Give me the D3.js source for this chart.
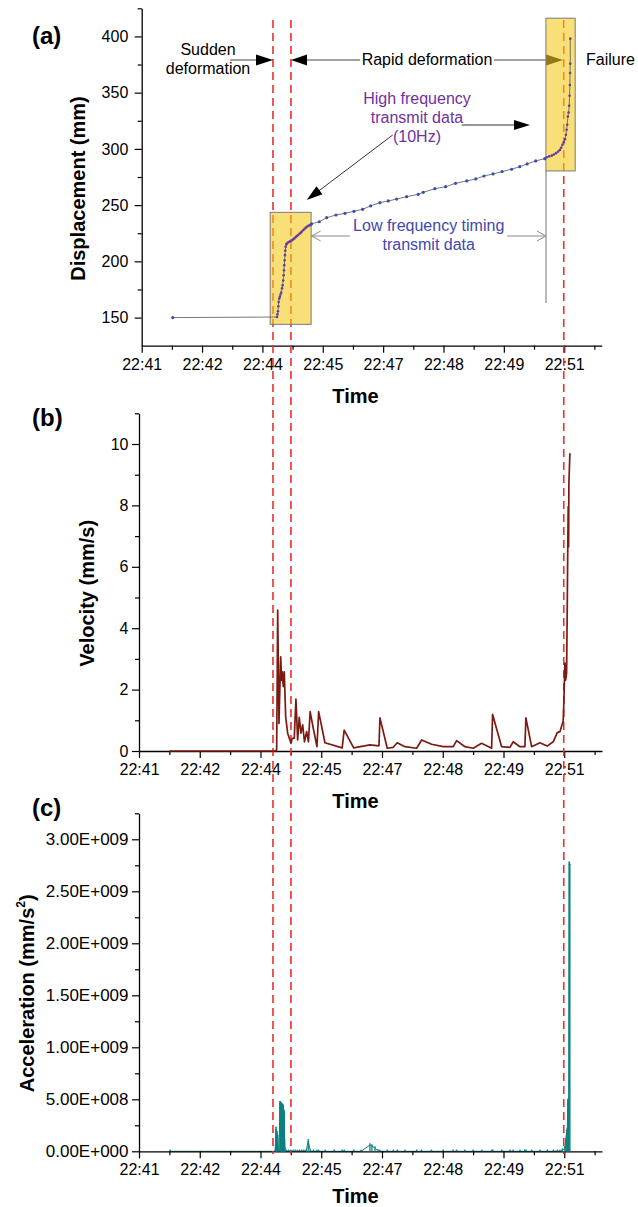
<!DOCTYPE html>
<html><head><meta charset="utf-8">
<script src="https://cdn.jsdelivr.net/npm/d3@7"></script>
<style>
body{margin:0;background:#fff}
svg{display:block}
text{font-family:"Liberation Sans",Arial,Helvetica,sans-serif}
</style>
</head><body>
<svg id="chart" width="638" height="1207"></svg>
<script>
// ---------------- DATA ----------------
// time axis in decimal minutes after 22:00 (ticks every 1.4 min)
const xTickValues = [41, 42.4, 43.8, 45.2, 46.6, 48.0, 49.4, 50.8];
const xTickLabels = ["22:41","22:42","22:44","22:45","22:47","22:48","22:49","22:51"];
const xMinorTicks = [41.7, 43.1, 44.5, 45.9, 47.3, 48.7, 50.1, 51.5];

const dispTicks = [150, 200, 250, 300, 350, 400];
const dispMinor = [175, 225, 275, 325, 375, 425];
const velTicks = [0, 2, 4, 6, 8, 10];
const velMinor = [1, 3, 5, 7, 9, 11];
const accTicks = [0, 5e8, 1e9, 1.5e9, 2e9, 2.5e9, 3e9];
const accTickLabels = ["0.00E+000","5.00E+008","1.00E+009","1.50E+009","2.00E+009","2.50E+009","3.00E+009"];
const accMinor = [2.5e8, 7.5e8, 1.25e9, 1.75e9, 2.25e9, 2.75e9, 3.25e9];

// (a) displacement (mm)
const dispTime = [41.72,44.138,44.150,44.161,44.170,44.177,44.190,44.205,44.220,44.237,44.255,44.270,44.282,44.293,44.300,44.307,44.315,44.323,44.331,44.339,44.355,44.370,44.40,44.43,44.46,44.485,44.51,44.54,44.57,44.60,44.63,44.66,44.69,44.717,44.75,44.78,44.81,44.84,44.87,44.90,44.925,
  44.942,45.119,45.29,45.506,45.715,45.923,46.125,46.31,46.526,46.719,46.913,47.145,47.414,47.53,47.80,48.05,48.28,48.54,48.75,48.94,49.15,49.36,49.58,49.77,49.94,50.14,50.35,
  50.39,50.45,50.51,50.56,50.61,50.66,50.70,50.73,50.76,50.79,50.82,50.84,50.856,50.87,50.886,50.902,50.916,50.925,50.932,50.936,50.94,50.942];
const dispValue = [150,150.5,153,155.6,160,163.9,166.9,168.5,170.5,172.3,176,178.8,183,187.7,192,196.6,201,205.5,209.5,212.9,215,216,217,217.6,218.2,218.8,219.5,220.4,221.5,222.5,223.4,224.5,225.5,226.5,227.9,229,230,231,231.7,232.2,232.6,
  233.4,235.2,238.8,241.2,242.7,244.5,246.3,249.3,252.2,253.7,255.4,257.5,259.6,261.4,264.6,266.4,269.4,271.5,273.3,275.9,277.7,279.8,281.9,284.2,286.6,289.3,291.3,
  292.6,293.3,294,295,296.2,297.6,299.1,301,303.6,306,308.5,312.5,317,321.4,328.8,332.4,338.3,347.3,356.8,367.5,375.8,398];

// high-frequency windows (time range, displacement range)
const boxTimes = [[43.98, 44.93], [50.376, 51.055]];
const boxValues = [[144, 243.6], [280.4, 416.2]];

// (b) velocity (mm/s)
const velTime = [41.7,44.15,44.173,44.196,44.226,44.265,44.288,44.302,44.325,44.348,44.380,44.426,44.502,44.532,44.578,44.617,44.656,44.693,44.732,44.772,44.813,44.864,44.905,44.944,45.016,45.101,45.140,45.285,45.682,45.728,45.947,46.322,46.530,46.553,46.721,46.859,46.951,47.129,47.398,47.513,47.744,48.011,48.242,48.320,48.511,48.702,48.896,49.126,49.149,49.357,49.548,49.624,49.778,49.893,49.916,50.048,50.239,50.407,50.546,50.638,50.700,50.776,50.792,50.815,50.831,50.854,50.868,50.877,50.891,50.900,50.907,50.930];
const velValue = [0,0,0.05,4.59,0.9,3.07,2.3,2.58,2.1,2.58,1.12,0.58,0.25,0.41,0.42,1.69,0.36,1.1,0.58,0.85,0.3,0.63,0.3,1.28,0.74,0.14,1.28,0.27,0.1,0.68,0.1,0.2,0.17,1.08,0.09,0.12,0.27,0.14,0.09,0.36,0.22,0.14,0.14,0.34,0.14,0.09,0.25,0.09,1.19,0.14,0.12,0.3,0.14,0.14,1.08,0.14,0.27,0.16,0.3,0.6,0.63,0.98,1.66,2.86,2.31,2.53,4.48,6.0,7.96,6.65,8.72,9.7];

// (c) acceleration (mm/s^2)
const accTime = [41.72,44.14,44.145,44.157,44.168,44.18,44.196,44.21,44.225,44.249,44.257,44.265,44.272,44.279,44.287,44.295,44.303,44.311,44.318,44.325,44.333,44.341,44.348,44.356,44.364,
  44.40,44.45,44.50,44.55,44.60,44.65,44.70,44.75,44.80,44.85,44.90,44.95,45.02,45.10,45.14,45.29,45.50,45.68,45.73,45.95,46.12,46.322,46.368,46.437,46.50,46.55,46.72,46.86,46.95,47.13,47.40,47.51,47.74,48.01,48.24,48.32,48.51,48.70,48.90,49.13,49.15,49.36,49.55,49.62,49.78,49.89,49.92,50.05,50.24,50.41,50.55,50.64,50.70,
  50.76,50.815,50.838,50.854,50.868,50.884,50.900,50.914,50.930];
const accValue = [0,0,5e7,2.2e8,1.2e8,1.8e8,1.4e8,3e7,0,4.67e8,4.5e8,4.6e8,4.4e8,4.5e8,4.3e8,4.45e8,4.2e8,4.4e8,4.0e8,4.3e8,3.9e8,3.8e8,3.65e8,1.0e8,2e7,
  0,0,0,0,0,0,0,0,0,0,1.0e8,0,0,0,0,0,0,0,0,0,0,6e7,5e7,3e7,5e6,0,0,0,0,0,0,0,0,0,0,0,0,0,0,0,0,0,0,0,0,0,0,0,0,0,0,0,0,
  1e7,3e7,1.1e8,1.9e8,2.05e8,4.9e8,1.5e8,2.77e9,2.75e9];

// event lines (sudden start, rapid start, failure)
const eventTimes = [44.045, 44.462, 50.79];

// ---------------- DRAW ----------------
const svg = d3.select("#chart");
const FONT = '"Liberation Sans",Arial,Helvetica,sans-serif';
const xMax = 51.67;

const xa = d3.scaleLinear().domain([41, xMax]).range([141.7, 601.7]);
const xb = d3.scaleLinear().domain([41, xMax]).range([139, 602]);
const ya = d3.scaleLinear().domain([125, 425]).range([345.7, 8.3]);
const yb = d3.scaleLinear().domain([0, 11]).range([751, 413.3]);
const yc = d3.scaleLinear().domain([0, 3.25e9]).range([1151.3, 813.3]);

function styleAxis(g, fs) {
  g.attr("font-family", FONT).attr("font-size", fs);
  g.selectAll("path.domain").attr("stroke", "#000").attr("stroke-width", 1.3);
  g.selectAll(".tick line").attr("stroke", "#000").attr("stroke-width", 1.2);
  g.selectAll(".tick text").attr("fill", "#000");
}
function xAxis(x, y0) {
  const g = svg.append("g").attr("transform", `translate(0,${y0})`);
  g.call(d3.axisBottom(x).tickValues(xTickValues).tickFormat((d, i) => xTickLabels[i])
    .tickSizeInner(7).tickSizeOuter(0).tickPadding(5.5));
  styleAxis(g, 16);
  const m = svg.append("g").attr("transform", `translate(0,${y0})`);
  m.call(d3.axisBottom(x).tickValues(xMinorTicks).tickFormat("").tickSizeInner(4).tickSizeOuter(0));
  m.select("path.domain").remove();
  styleAxis(m, 16);
}
function yAxis(x0, y, ticks, minor, fmt, pad, fs) {
  const g = svg.append("g").attr("transform", `translate(${x0},0)`);
  g.call(d3.axisLeft(y).tickValues(ticks).tickFormat(fmt).tickSizeInner(7).tickSizeOuter(0).tickPadding(pad));
  styleAxis(g, fs);
  const m = svg.append("g").attr("transform", `translate(${x0},0)`);
  m.call(d3.axisLeft(y).tickValues(minor).tickFormat("").tickSizeInner(4).tickSizeOuter(0));
  m.select("path.domain").remove();
  styleAxis(m, fs);
}

// Panel (c) data line first (under the axis)
const accData = accTime.map((t, i) => ({t, v: accValue[i]}));
const teal = "#0c8080";
svg.append("path").datum(accData)
  .attr("d", d3.line().x(d => xb(d.t)).y(d => yc(d.v)))
  .attr("fill", "none").attr("stroke", teal).attr("stroke-width", 1);

// axes
xAxis(xa, 345.7);
yAxis(141.7, ya, dispTicks, dispMinor, d3.format("d"), 6.4, 16);
xAxis(xb, 751);
yAxis(139, yb, velTicks, velMinor, d3.format("d"), 3.5, 16);
xAxis(xb, 1151.3);
yAxis(139, yc, accTicks, accMinor, (d, i) => accTickLabels[i], 3.5, 17);

// acceleration stems and dots
svg.append("g").selectAll("line").data(accData.filter(d => d.v > 0)).join("line")
  .attr("x1", d => xb(d.t)).attr("x2", d => xb(d.t))
  .attr("y1", yc(0)).attr("y2", d => yc(d.v))
  .attr("stroke", teal).attr("stroke-width", 1.3);
svg.append("g").selectAll("circle").data(accData).join("circle")
  .attr("cx", d => xb(d.t)).attr("cy", d => yc(d.v) - 1).attr("r", 0.9).attr("fill", teal);

// event dashed lines
svg.append("g").selectAll("line").data(eventTimes).join("line")
  .attr("x1", d => xa(d)).attr("x2", d => xa(d))
  .attr("y1", 20).attr("y2", 1154)
  .attr("stroke", "#e8322a").attr("stroke-width", 1.6).attr("stroke-dasharray", "8,5");

// annotation helpers
const ann = svg.append("g");
function line(x1, y1, x2, y2, col, w) {
  ann.append("line").attr("x1", x1).attr("y1", y1).attr("x2", x2).attr("y2", y2)
    .attr("stroke", col).attr("stroke-width", w);
}
function head(tx, ty, fx, fy, len, half, col) {
  const dx = tx - fx, dy = ty - fy, L = Math.hypot(dx, dy), ux = dx / L, uy = dy / L;
  const bx = tx - ux * len, by = ty - uy * len;
  ann.append("polygon").attr("points",
    `${tx},${ty} ${bx - uy * half},${by + ux * half} ${bx + uy * half},${by - ux * half}`)
    .attr("fill", col);
}
function openHead(tx, ty, dir, col) {
  ann.append("path").attr("d", `M${tx - dir * 9},${ty - 5}L${tx},${ty}L${tx - dir * 9},${ty + 5}`)
    .attr("fill", "none").attr("stroke", col).attr("stroke-width", 1);
}
// Sudden deformation arrow
line(230, 60, 258, 60, "#444", 1);
head(273, 60, 230, 60, 17, 5.5, "#000");
// Rapid deformation arrows
line(305, 60, 360, 60, "#444", 1);
head(291, 60, 360, 60, 16, 5.5, "#000");
line(494, 60, 548, 60, "#444", 1);
head(563, 60, 494, 60, 17, 5.5, "#000");
// High frequency arrows
line(461.7, 125, 516, 125, "#333", 1);
head(530, 125, 461.7, 125, 16, 5, "#000");
line(392.7, 135, 318, 191.5, "#333", 1);
head(306.7, 200, 392.7, 135, 16, 5, "#000");
// Low frequency double arrow and marker line
const grey = "#8a8a8a";
line(311.7, 236, 350, 236, grey, 1);
line(507, 236, 546, 236, grey, 1);
openHead(311.7, 236, -1, grey);
openHead(546, 236, 1, grey);
line(546, 171, 546, 303, grey, 1.2);

// high-frequency boxes
svg.append("g").selectAll("rect").data(boxTimes).join("rect")
  .attr("x", (d) => xa(d[0])).attr("width", d => xa(d[1]) - xa(d[0]))
  .attr("y", (d, i) => ya(boxValues[i][1])).attr("height", (d, i) => ya(boxValues[i][0]) - ya(boxValues[i][1]))
  .attr("fill", "#f3c91d").attr("fill-opacity", 0.6)
  .attr("stroke", "#7a7a7a").attr("stroke-width", 1);

// displacement line + dots
const dispData = dispTime.map((t, i) => ({t, v: dispValue[i]}));
svg.append("path").datum(dispData)
  .attr("d", d3.line().x(d => xa(d.t)).y(d => ya(d.v)))
  .attr("fill", "none").attr("stroke", "#555").attr("stroke-width", 0.8);
const inBox = t => boxTimes.some(b => t >= b[0] && t <= b[1]);
svg.append("g").selectAll("circle").data(dispData).join("circle")
  .attr("cx", d => xa(d.t)).attr("cy", d => ya(d.v)).attr("r", d => inBox(d.t) ? 1.3 : 1.6)
  .attr("fill", d => inBox(d.t) ? "#6a3d9a" : "#3a4db5");

// velocity line
const velData = velTime.map((t, i) => ({t, v: velValue[i]}));
svg.append("path").datum(velData)
  .attr("d", d3.line().x(d => xb(d.t)).y(d => yb(d.v)))
  .attr("fill", "none").attr("stroke", "#7b1a12").attr("stroke-width", 1.7).attr("stroke-linejoin", "round");

// texts
function txt(x, y, s, opt = {}) {
  return svg.append("text").attr("x", x).attr("y", y).text(s)
    .attr("font-family", FONT).attr("font-size", opt.fs || 16)
    .attr("font-weight", opt.fw || "normal").attr("fill", opt.col || "#000")
    .attr("text-anchor", opt.anchor || "middle");
}
txt(208, 55, "Sudden");
txt(208, 74, "deformation");
txt(427, 65, "Rapid deformation");
txt(586, 65, "Failure", {anchor: "start"});
const purple = "#7030a0";
txt(417, 104, "High frequency", {col: purple});
txt(417, 123, "transmit data", {col: purple});
txt(417, 141.5, "(10Hz)", {col: purple});
const blue = "#3f48b0";
txt(428.7, 230.7, "Low frequency timing", {col: blue});
txt(428.7, 250.3, "transmit data", {col: blue});

// panel labels
txt(32, 44, "(a)", {fs: 24, fw: "bold", anchor: "start"});
txt(32, 425.5, "(b)", {fs: 24, fw: "bold", anchor: "start"});
txt(32, 816, "(c)", {fs: 24, fw: "bold", anchor: "start"});

// axis titles
txt(355.5, 402.5, "Time", {fs: 20, fw: "bold"});
txt(355.5, 808, "Time", {fs: 20, fw: "bold"});
txt(355.5, 1203, "Time", {fs: 20, fw: "bold"});
svg.append("text").attr("transform", "translate(85,188.5) rotate(-90)")
  .attr("text-anchor", "middle").attr("font-family", FONT).attr("font-size", 20).attr("font-weight", "bold")
  .text("Displacement (mm)");
svg.append("text").attr("transform", "translate(94.3,593.3) rotate(-90)")
  .attr("text-anchor", "middle").attr("font-family", FONT).attr("font-size", 20).attr("font-weight", "bold")
  .text("Velocity (mm/s)");
const at = svg.append("text").attr("transform", "translate(34.3,993.3) rotate(-90)")
  .attr("text-anchor", "middle").attr("font-family", FONT).attr("font-size", 20).attr("font-weight", "bold");
at.append("tspan").text("Acceleration (mm/s");
at.append("tspan").text("2").attr("font-size", 12).attr("dy", -9);
at.append("tspan").text(")").attr("dy", 9);
</script>
</body></html>
